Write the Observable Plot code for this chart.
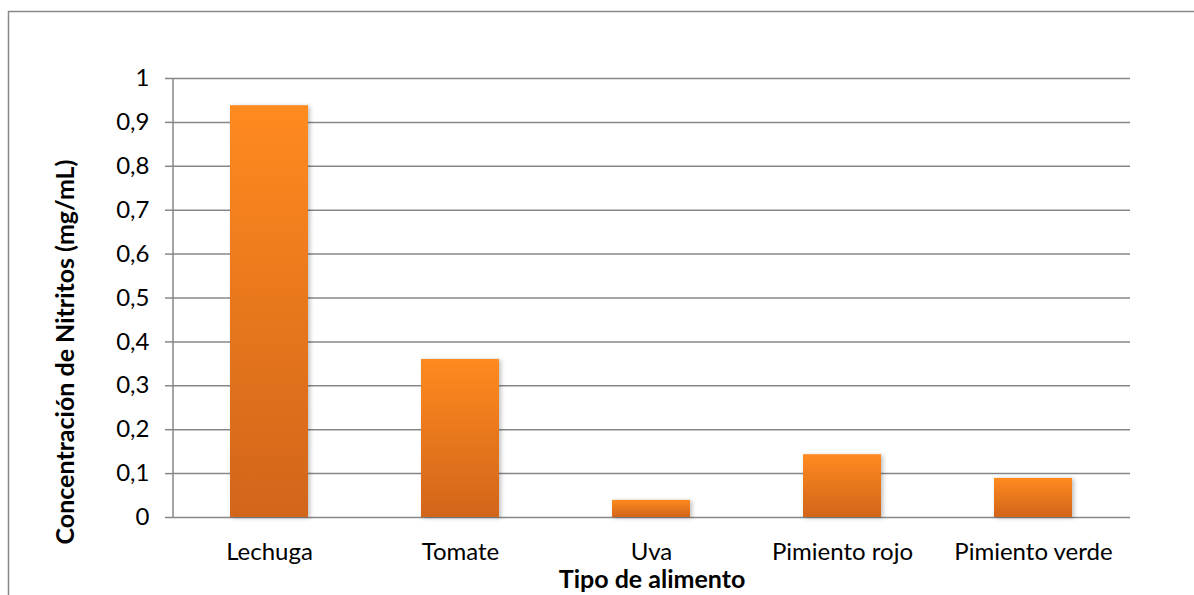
<!DOCTYPE html>
<html>
<head>
<meta charset="utf-8">
<script src="https://cdn.jsdelivr.net/npm/d3@7"></script>
<script src="https://cdn.jsdelivr.net/npm/@observablehq/plot@0.6"></script>
<style>
  html, body { margin: 0; padding: 0; background: #fff; }
  #chart { position: relative; width: 1194px; height: 595px; overflow: hidden; }
  svg g[aria-label="bar"] rect { filter: drop-shadow(2px 1px 2px rgba(0,0,0,0.25)); }
</style>
</head>
<body>
<div id="chart"></div>
<script>
const categories = ["Lechuga", "Tomate", "Uva", "Pimiento rojo", "Pimiento verde"];
const values = [0.938, 0.360, 0.039, 0.143, 0.089];
const yTicks = [0, 0.1, 0.2, 0.3, 0.4, 0.5, 0.6, 0.7, 0.8, 0.9, 1];
const yLabel = "Concentración de Nitritos (mg/mL)";
const xLabel = "Tipo de alimento";

const data = categories.map((c, i) => ({ category: c, value: values[i] }));
const fmt = d => String(d).replace(".", ",");
const font = "Lato, 'Open Sans', sans-serif";

const defs = () => {
  const d = d3.create("svg:defs");
  const g = d.append("linearGradient").attr("id", "barGrad")
    .attr("x1", 0).attr("y1", 0).attr("x2", 0).attr("y2", 1);
  g.append("stop").attr("offset", "0%").attr("stop-color", "#FF8A1F");
  g.append("stop").attr("offset", "100%").attr("stop-color", "#D1651A");
  return d.node();
};

const chart = Plot.plot({
  width: 1194,
  height: 595,
  marginLeft: 173,
  marginRight: 64,
  marginTop: 78,
  marginBottom: 78,
  style: { fontFamily: font, fontSize: "24px", color: "#000", background: "#fff", overflow: "visible" },
  x: { domain: categories, paddingInner: 0.59, paddingOuter: 0.295, label: null },
  y: { domain: [0, 1], label: null },
  marks: [
    defs,
    Plot.gridY(yTicks, { stroke: "#878787", strokeOpacity: 1, strokeWidth: 1.5 }),
    Plot.barY(data, { x: "category", y: "value", fill: "url(#barGrad)" }),
    Plot.axisY(yTicks, { tickFormat: fmt, tickSize: 8, tickPadding: 16, stroke: "#878787", strokeWidth: 1.5, fontSize: 24, fill: "#000" }),
    Plot.axisX({ tickSize: 0, tickPadding: 25, fontSize: 24, fill: "#000" }),
    Plot.text([yLabel], { frameAnchor: "left", textAnchor: "middle", dx: -108, dy: 54, rotate: -90, fontWeight: "bold", fontSize: 25, fill: "#000" }),
    Plot.text([xLabel], { frameAnchor: "bottom", textAnchor: "middle", dy: 70, fontWeight: "bold", fontSize: 25, fill: "#000" })
  ]
});

const y = chart.scale("y");
const svg = d3.select(chart);
svg.append("line")
  .attr("x1", 173).attr("x2", 173)
  .attr("y1", y.apply(1)).attr("y2", y.apply(0))
  .attr("stroke", "#878787").attr("stroke-width", 1.5);
svg.append("rect")
  .attr("x", 8.5).attr("y", 11.5).attr("width", 1200).attr("height", 600)
  .attr("fill", "none").attr("stroke", "#888").attr("stroke-width", 1.5);

document.getElementById("chart").appendChild(chart);
</script>
</body>
</html>
